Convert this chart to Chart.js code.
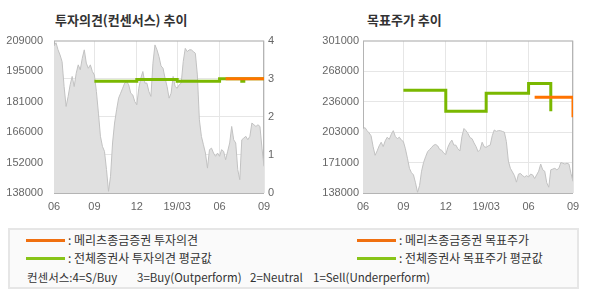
<!DOCTYPE html>
<html>
<head>
<meta charset="utf-8">
<script src="https://cdn.jsdelivr.net/npm/chart.js@4"></script>
<style>
body { margin: 0; width: 590px; height: 300px; background: #fff; position: relative; overflow: hidden; font-family: 'Noto Sans CJK KR', sans-serif; }
.title { position: absolute; top: 12px; font-size: 13px; line-height: 16px; font-weight: bold; color: #333; white-space: nowrap; }
canvas { position: absolute; }
#legend { position: absolute; left: 8px; top: 228px; width: 567px; height: 57px; background: #fafafa; border: 2px solid #e6e6e6; }
.sw { position: absolute; width: 39px; height: 3px; }
.txt { position: absolute; font-size: 12px; line-height: 14px; color: #333; white-space: nowrap; }
.cons { font-size: 11.5px; }
</style>
</head>
<body>
<div class="title" style="left:55px">투자의견(컨센서스) 추이</div>
<div class="title" style="left:367px">목표주가 추이</div>
<canvas id="opinionChart" width="290" height="190" style="left:0;top:30px"></canvas>
<canvas id="targetChart" width="300" height="190" style="left:290px;top:30px"></canvas>
<div id="legend">
  <div class="sw" style="left:16px;top:9px;background:#f07010"></div>
  <div class="txt" style="left:58px;top:3px">: 메리츠종금증권 투자의견</div>
  <div class="sw" style="left:16px;top:27px;background:#88c418"></div>
  <div class="txt" style="left:58px;top:21px">: 전체증권사 투자의견 평균값</div>
  <div class="sw" style="left:347px;top:9px;background:#f07010"></div>
  <div class="txt" style="left:389px;top:3px">: 메리츠종금증권 목표주가</div>
  <div class="sw" style="left:347px;top:27px;background:#88c418"></div>
  <div class="txt" style="left:389px;top:21px">: 전체증권사 목표주가 평균값</div>
  <div class="txt cons" style="left:17px;top:40px">컨센서스:4=S/Buy</div>
  <div class="txt cons" style="left:127px;top:40px">3=Buy(Outperform)</div>
  <div class="txt cons" style="left:240px;top:40px">2=Neutral</div>
  <div class="txt cons" style="left:303px;top:40px">1=Sell(Underperform)</div>
</div>
<script>
// x축: 일별 샘플 인덱스, 월 눈금
const monthLabels = ['06', '09', '12', '19/03', '06', '09'];
const monthIdx = [0, 20, 41, 61, 82, 104];

// 주가 (두 차트 공통)
const price = [
    206500, 208000, 204700, 202300, 199200, 187600, 178300, 183000, 188400, 192300,
    187600, 193800, 197700, 195400, 200800, 204700, 198500, 196100, 197700, 194600,
    193000, 185300, 175200, 164400, 159700, 157400, 148900, 138800, 145800, 161300,
    170600, 176800, 182200, 184500, 186800, 189200, 189900, 188400, 184500, 183700,
    180600, 179100, 186800, 191500, 194600, 189200, 189200, 185300, 183000, 198500,
    207000, 204700, 201500, 197200, 196100, 191500, 187600, 182200, 184500, 192300,
    187600, 186800, 188400, 189200, 199200, 205400, 203900, 204700, 204700, 203900,
    203100, 193000, 172100, 164400, 160500, 156600, 149600, 158200, 158900, 156600,
    155100, 156600, 155100, 158200, 157400, 153500, 157400, 161300, 169000, 162800,
    161300, 148900, 144200, 162800, 163600, 164400, 162800, 164400, 170600, 169800,
    169000, 169800, 169000, 158900, 150400
];

// 투자의견
const opinionAvgX = [20, 41, 61, 82, 93, 94, 104];
const opinionAvg = [2.93, 2.98, 2.93, 3.0, 2.93, 3.0, 3.0];
const opinionMeritzX = [85, 104];
const opinionMeritz = [3.0, 3.0];
const opinionTicks = ['0', '1', '2', '3', '4'];

// 목표주가
const targetAvgX = [20, 41, 61, 82, 93];
const targetAvg = [248000, 225500, 244700, 255000, 225500];
const targetMeritzX = [85, 104];
const targetMeritz = [240300, 219100];

// y축 눈금
const priceTicksL = ['138000', '152000', '166000', '181000', '195000', '209000'];
const priceRangeL = [138000, 209000];
const priceTicksR = ['138000', '171000', '203000', '236000', '268000', '301000'];
const priceRangeR = [138000, 301000];

const GREEN = '#7ab800';
const ORANGE = '#ff7300';
const GRID = '#e6e6e6';
const tickFont = { family: 'Liberation Sans', size: 11 };

const points = (xs, ys) => xs.map((x, i) => ({ x: x, y: ys[i] }));

const frame = {
    id: 'frame',
    beforeDatasetsDraw(chart) {
        const a = chart.chartArea, ctx = chart.ctx;
        ctx.save();
        ctx.strokeStyle = '#b4b4b4';
        ctx.lineWidth = 1;
        ctx.strokeRect(a.left + 0.5, a.top + 0.5, a.right - a.left - 1, a.bottom - a.top);
        ctx.restore();
    }
};

function evenTicks(range, labels) {
    return function (scale) {
        const n = labels.length;
        scale.ticks = labels.map((_, i) => ({ value: range[0] + (range[1] - range[0]) * i / (n - 1) }));
    };
}

function xScale() {
    return {
        type: 'linear', min: 0, max: monthIdx[monthIdx.length - 1],
        afterBuildTicks: s => { s.ticks = monthIdx.map(v => ({ value: v })); },
        afterFit: s => { s.height = 27; },
        ticks: { font: tickFont, color: '#666', padding: 7, maxRotation: 0, autoSkip: false,
                 callback: v => monthLabels[monthIdx.indexOf(v)] },
        grid: { color: GRID, drawTicks: false },
        border: { display: false }
    };
}

function priceDataset(axis) {
    return {
        data: points(price.map((_, i) => i), price),
        yAxisID: axis,
        borderColor: '#c2c2c2', borderWidth: 1,
        backgroundColor: '#e0e0e0', fill: 'start',
        pointRadius: 0, tension: 0, order: 3
    };
}

// 수평 먼저, 다음 점에서 수직 (계단형)
function stepDataset(xs, ys, color, axis, order) {
    return {
        data: points(xs, ys), yAxisID: axis,
        borderColor: color, borderWidth: 3, stepped: 'before',
        pointRadius: 0, fill: false, order: order
    };
}

// 투자의견 차트
new Chart(document.getElementById('opinionChart'), {
    type: 'line',
    data: {
        datasets: [
            priceDataset('y'),
            stepDataset(opinionAvgX, opinionAvg, GREEN, 'y2', 2),
            stepDataset(opinionMeritzX, opinionMeritz, ORANGE, 'y2', 1)
        ]
    },
    options: {
        responsive: false, animation: false,
        layout: { padding: { top: 10, left: 0, right: 0, bottom: 0 } },
        plugins: { legend: { display: false }, tooltip: { enabled: false } },
        scales: {
            x: xScale(),
            y: {
                position: 'left', min: priceRangeL[0], max: priceRangeL[1],
                afterBuildTicks: evenTicks(priceRangeL, priceTicksL),
                afterFit: s => { s.width = 54; },
                ticks: { font: tickFont, color: '#666', padding: 3, callback: (v, i) => priceTicksL[i] },
                grid: { display: false },
                border: { display: false }
            },
            y2: {
                position: 'right', min: 0, max: 4,
                afterBuildTicks: evenTicks([0, 4], opinionTicks),
                afterFit: s => { s.width = 26; },
                ticks: { font: tickFont, color: '#666', padding: 4, callback: (v, i) => opinionTicks[i] },
                grid: { color: GRID, drawTicks: false },
                border: { display: false }
            }
        }
    },
    plugins: [frame]
});

// 목표주가 차트
new Chart(document.getElementById('targetChart'), {
    type: 'line',
    data: {
        datasets: [
            priceDataset('y'),
            stepDataset(targetAvgX, targetAvg, GREEN, 'y', 2),
            stepDataset(targetMeritzX, targetMeritz, ORANGE, 'y', 1)
        ]
    },
    options: {
        responsive: false, animation: false,
        layout: { padding: { top: 9, left: 0, right: 17, bottom: 0 } },
        plugins: { legend: { display: false }, tooltip: { enabled: false } },
        scales: {
            x: xScale(),
            y: {
                position: 'left', min: priceRangeR[0], max: priceRangeR[1],
                afterBuildTicks: evenTicks(priceRangeR, priceTicksR),
                afterFit: s => { s.width = 73; },
                ticks: { font: tickFont, color: '#666', padding: 4, callback: (v, i) => priceTicksR[i] },
                grid: { color: GRID, drawTicks: false },
                border: { display: false }
            }
        }
    },
    plugins: [frame]
});
</script>
</body>
</html>
